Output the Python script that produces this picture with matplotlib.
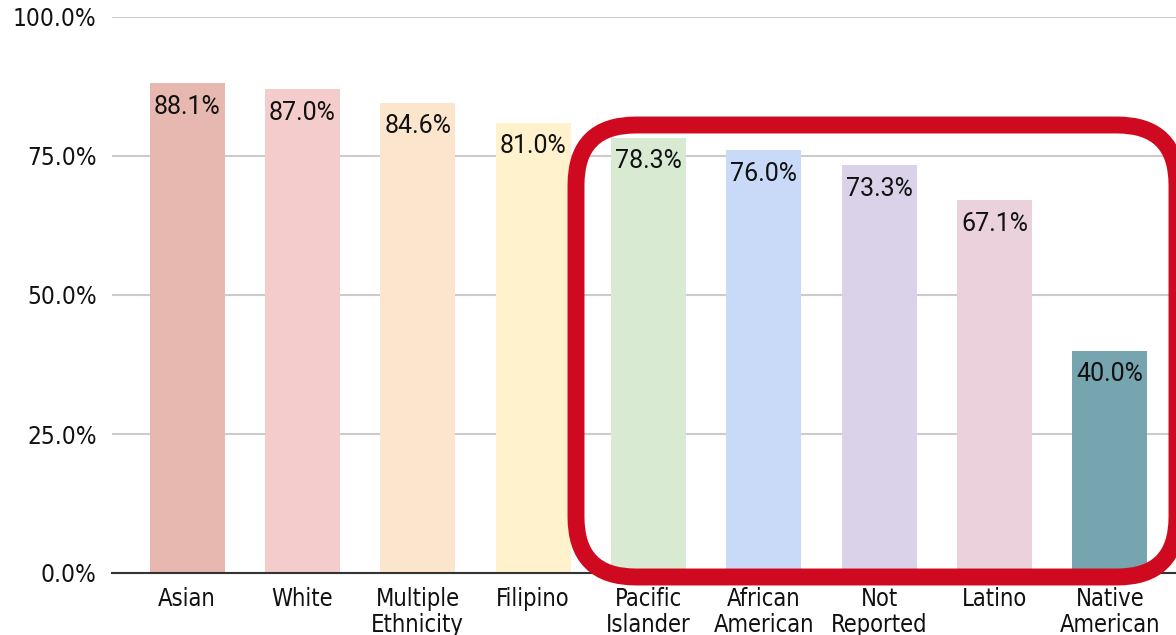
import matplotlib
matplotlib.use("Agg")
import matplotlib.pyplot as plt
from matplotlib.patches import FancyBboxPatch
from matplotlib.ticker import FuncFormatter

categories = ["Asian", "White", "Multiple\nEthnicity", "Filipino", "Pacific\nIslander",
              "African\nAmerican", "Not\nReported", "Latino", "Native\nAmerican"]
values = [88.1, 87.0, 84.6, 81.0, 78.3, 76.0, 73.3, 67.1, 40.0]
colors = ["#E6B8AF", "#F4CCCC", "#FCE5CD", "#FFF2CC", "#D9EAD3",
          "#C9DAF8", "#D9D2E9", "#EAD1DC", "#76A5AF"]
yticks = [0, 25, 50, 75, 100]

fig = plt.figure(figsize=(11.76, 6.35), dpi=100)
ax = fig.add_axes([112/1176, 1 - 573/635, 1 - 112/1176, (573 - 17)/635])

x = list(range(len(categories)))
bars = ax.bar(x, values, width=0.65, color=colors, zorder=2)
for b, v in zip(bars, values):
    ax.annotate(f"{v:.1f}%", (b.get_x() + b.get_width()/2, v), xytext=(0, -8.5),
                textcoords="offset points", ha="center", va="top",
                fontsize=18, family=["Roboto", "DejaVu Sans"], color="#111111", zorder=3)

ax.set_xlim(-0.652, 8.574)
ax.set_ylim(0, 100)
ax.set_yticks(yticks)
ax.yaxis.set_major_formatter(FuncFormatter(lambda v, p: f"{v:.1f}%"))
ax.set_xticks(x)
ax.set_xticklabels(categories, linespacing=1.1)
for lab in ax.get_xticklabels():
    lab.set_fontfamily("DejaVu Sans")
    lab.set_fontstretch("condensed")
    lab.set_fontsize(17)
    lab.set_color("#111111")
for lab in ax.get_yticklabels():
    lab.set_fontfamily("DejaVu Sans")
    lab.set_fontstretch("condensed")
    lab.set_fontsize(17.5)
    lab.set_color("#111111")
ax.tick_params(axis="y", length=0, pad=11)
ax.tick_params(axis="x", length=0, pad=10)

ax.grid(axis="y", color="#CCCCCC", linewidth=1.5, zorder=0)
ax.set_axisbelow(True)
for s in ["top", "right", "left"]:
    ax.spines[s].set_visible(False)
ax.spines["bottom"].set_color("#333333")
ax.spines["bottom"].set_linewidth(1.5)
ax.spines["bottom"].set_zorder(2.5)

# red highlight box (pixel-based, inches via dpi_scale_trans)
box = FancyBboxPatch((5.76, 0.58), 6.01, 4.52,
                     boxstyle="round,pad=0,rounding_size=0.6",
                     transform=fig.dpi_scale_trans, fill=False,
                     edgecolor="#CF0A20", linewidth=12.2, clip_on=False, zorder=10)
fig.patches.append(box)

fig.savefig("out.png", dpi=100)
